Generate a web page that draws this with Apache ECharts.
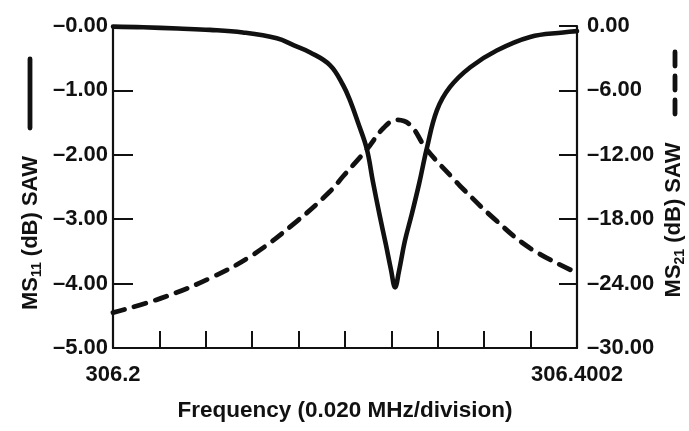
<!DOCTYPE html>
<html>
<head>
<meta charset="utf-8">
<script src="https://cdn.jsdelivr.net/npm/echarts@6/dist/echarts.min.js"></script>
<style>
html,body{margin:0;padding:0;background:#fff;}
#chart{width:689px;height:431px;}
</style>
</head>
<body>
<div id="chart"></div>
<script>
// Frequency (MHz) and MS11 (dB), solid curve, left axis
const ms11Freq = [306.2000, 306.2130, 306.2280, 306.2418, 306.2560, 306.2706, 306.2780, 306.2850, 306.2936, 306.2992,
                  306.3022, 306.3056, 306.3094, 306.3120, 306.3150, 306.3176, 306.3198, 306.3216, 306.3232, 306.3258,
                  306.3288, 306.3320, 306.3352, 306.3396, 306.3452, 306.3540, 306.3654, 306.3798, 306.3940, 306.4000];
const ms11Db   = [-0.01, -0.02, -0.04, -0.06, -0.10, -0.19, -0.30, -0.41, -0.61, -0.92,
                  -1.16, -1.50, -1.91, -2.41, -2.95, -3.39, -3.78, -4.06, -3.82, -3.34,
                  -2.92, -2.44, -1.91, -1.31, -0.95, -0.64, -0.38, -0.17, -0.10, -0.08];

// Frequency (MHz) and MS21 (dB), dashed curve, right axis
const ms21Freq = [306.2000, 306.2202, 306.2418, 306.2604, 306.2792, 306.2936, 306.2992, 306.3094, 306.3166, 306.3222,
                  306.3280, 306.3352, 306.3466, 306.3496, 306.3640, 306.3798, 306.4000];
const ms21Db   = [-26.7, -25.4, -23.5, -21.3, -18.2, -15.4, -14.0, -11.5, -9.5, -8.75,
                  -9.2, -11.5, -14.2, -14.9, -17.9, -20.7, -23.0];

const xTickLabels = ['306.2', '', '', '', '', '', '', '', '', '', '306.4002'];
const leftTickLabels = ['\u20135.00', '\u20134.00', '\u20133.00', '\u20132.00', '\u20131.00', '\u20130.00'];
const rightTickLabels = ['\u201330.00', '\u201324.00', '\u201318.00', '\u201312.00', '\u20136.00', '0.00'];

const xMin = 306.2, xMax = 306.4, xStep = 0.02;
const lMin = -5, lMax = 0, lStep = 1;
const rMin = -30, rMax = 0, rStep = 6;

const FONT = 'Liberation Sans';
const INK = '#111';

const chart = echarts.init(document.getElementById('chart'), null, {renderer: 'canvas'});

const pair = (xs, ys) => xs.map((x, i) => [x, ys[i]]);

const labelStyle = {fontFamily: FONT, fontSize: 22, fontWeight: 'bold', color: INK};

chart.setOption({
  backgroundColor: '#fff',
  animation: false,
  grid: {left: 113, right: 112, top: 26, bottom: 83, containLabel: false},
  xAxis: {
    type: 'value', min: xMin, max: xMax, interval: xStep,
    axisLine: {show: true, onZero: false, lineStyle: {color: INK, width: 2.2}},
    axisTick: {show: true, inside: true, length: 17, lineStyle: {color: INK, width: 2}},
    splitLine: {show: false},
    axisLabel: Object.assign({}, labelStyle, {
      margin: 16, showMinLabel: true, showMaxLabel: true,
      formatter: v => xTickLabels[Math.round((v - xMin) / xStep)] || ''
    })
  },
  yAxis: [
    {
      type: 'value', position: 'left', min: lMin, max: lMax, interval: lStep,
      axisLine: {show: true, onZero: false, lineStyle: {color: INK, width: 2.2}},
      axisTick: {show: true, inside: true, length: 20, lineStyle: {color: INK, width: 2}},
      splitLine: {show: false},
      axisLabel: Object.assign({}, labelStyle, {
        margin: 5,
        formatter: v => leftTickLabels[Math.round((v - lMin) / lStep)]
      })
    },
    {
      type: 'value', position: 'right', min: rMin, max: rMax, interval: rStep,
      axisLine: {show: true, onZero: false, lineStyle: {color: INK, width: 2.2}},
      axisTick: {show: true, inside: true, length: 18, lineStyle: {color: INK, width: 2}},
      splitLine: {show: false},
      axisLabel: Object.assign({}, labelStyle, {
        margin: 10,
        formatter: v => rightTickLabels[Math.round((v - rMin) / rStep)]
      })
    }
  ],
  series: [
    {
      name: 'MS11', type: 'line', yAxisIndex: 0,
      data: pair(ms11Freq, ms11Db),
      showSymbol: false, smooth: 0.4,
      lineStyle: {color: INK, width: 4.6, cap: 'round', join: 'round'}
    },
    {
      name: 'MS21', type: 'line', yAxisIndex: 1,
      data: pair(ms21Freq, ms21Db),
      showSymbol: false, smooth: 0.4,
      lineStyle: {color: INK, width: 4.8, type: [12, 10], cap: 'round'}
    }
  ],
  graphic: [
    {
      type: 'text', x: 345, y: 411,
      style: {text: 'Frequency (0.020 MHz/division)', fill: INK, font: 'bold 22.5px "Liberation Sans"', align: 'center', verticalAlign: 'middle'}
    },
    {
      type: 'text', x: 31, y: 233, rotation: Math.PI / 2,
      style: {
        text: '{a|MS}{s|11}{a| (dB) SAW}', align: 'center', verticalAlign: 'middle', fill: INK,
        rich: {
          a: {fontFamily: FONT, fontSize: 22, fontWeight: 'bold', fill: INK, lineHeight: 26, verticalAlign: 'middle'},
          s: {fontFamily: FONT, fontSize: 14, fontWeight: 'bold', fill: INK, lineHeight: 26, padding: [12, 0, 0, 0], verticalAlign: 'middle'}
        }
      }
    },
    {
      type: 'text', x: 674, y: 220, rotation: Math.PI / 2,
      style: {
        text: '{a|MS}{s|21}{a| (dB) SAW}', align: 'center', verticalAlign: 'middle', fill: INK,
        rich: {
          a: {fontFamily: FONT, fontSize: 22, fontWeight: 'bold', fill: INK, lineHeight: 26, verticalAlign: 'middle'},
          s: {fontFamily: FONT, fontSize: 14, fontWeight: 'bold', fill: INK, lineHeight: 26, padding: [12, 0, 0, 0], verticalAlign: 'middle'}
        }
      }
    },
    {
      type: 'line', shape: {x1: 30, y1: 59, x2: 30, y2: 128},
      style: {stroke: INK, lineWidth: 4.8, lineCap: 'round'}
    },
    {
      type: 'line', shape: {x1: 675, y1: 52, x2: 675, y2: 115},
      style: {stroke: INK, lineWidth: 4.8, lineDash: [14, 10], lineCap: 'round'}
    }
  ]
});
</script>
</body>
</html>
